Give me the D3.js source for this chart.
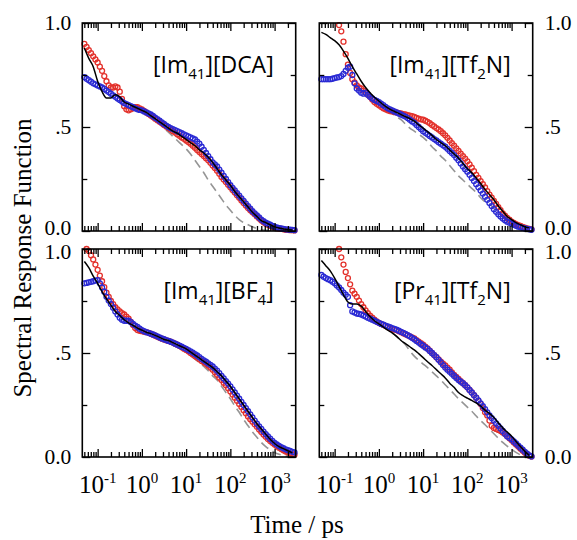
<!DOCTYPE html>
<html>
<head>
<meta charset="utf-8">
<script src="https://cdn.jsdelivr.net/npm/d3@7/dist/d3.min.js"></script>
<style>
  html, body { margin: 0; padding: 0; background: #fff; }
  svg { display: block; }
</style>
</head>
<body>
<svg id="chart" width="577" height="540"></svg>
<script>
// ---------------- DATA ----------------
// log10(time / ps) grid for the measured points (circles): -1.30 ... 3.45, step 0.05
const pointLogTimes = [
  -1.30,-1.25,-1.20,-1.15,-1.10,-1.05,-1.00,-0.95,-0.90,-0.85,
  -0.80,-0.75,-0.70,-0.65,-0.60,-0.55,-0.50,-0.45,-0.40,-0.35,
  -0.30,-0.25,-0.20,-0.15,-0.10,-0.05, 0.00, 0.05, 0.10, 0.15,
   0.20, 0.25, 0.30, 0.35, 0.40, 0.45, 0.50, 0.55, 0.60, 0.65,
   0.70, 0.75, 0.80, 0.85, 0.90, 0.95, 1.00, 1.05, 1.10, 1.15,
   1.20, 1.25, 1.30, 1.35, 1.40, 1.45, 1.50, 1.55, 1.60, 1.65,
   1.70, 1.75, 1.80, 1.85, 1.90, 1.95, 2.00, 2.05, 2.10, 2.15,
   2.20, 2.25, 2.30, 2.35, 2.40, 2.45, 2.50, 2.55, 2.60, 2.65,
   2.70, 2.75, 2.80, 2.85, 2.90, 2.95, 3.00, 3.05, 3.10, 3.15,
   3.20, 3.25, 3.30, 3.35, 3.40, 3.45];
// log10(time / ps) grid for the model curves: -1.3 ... 3.4, step 0.1
const lineLogTimes = [-1.3,-1.2,-1.1,-1.0,-0.9,-0.8,-0.7,-0.6,-0.5,-0.4,-0.3,-0.2,-0.1,0.0,
  0.1,0.2,0.3,0.4,0.5,0.6,0.7,0.8,0.9,1.0,1.1,1.2,1.3,1.4,1.5,1.6,1.7,1.8,1.9,2.0,
  2.1,2.2,2.3,2.4,2.5,2.6,2.7,2.8,2.9,3.0,3.1,3.2,3.3,3.4];

// Panel 1: [Im41][DCA]
const dcaRed = [
  0.90,0.885,0.87,0.855,0.84,0.825,0.81,0.79,0.77,0.745,
  0.72,0.70,0.69,0.69,0.695,0.69,0.67,0.635,0.60,0.585,
  0.58,0.585,0.59,0.595,0.595,0.59,0.585,0.578,0.57,0.563,
  0.555,0.548,0.54,0.533,0.525,0.518,0.51,0.503,0.495,0.488,
  0.48,0.473,0.465,0.458,0.45,0.443,0.435,0.428,0.42,0.41,
  0.40,0.39,0.38,0.37,0.36,0.35,0.34,0.328,0.315,0.303,
  0.29,0.275,0.26,0.248,0.235,0.222,0.21,0.197,0.185,0.172,
  0.16,0.147,0.135,0.122,0.11,0.10,0.09,0.08,0.07,0.06,
  0.05,0.042,0.035,0.03,0.025,0.021,0.017,0.014,0.012,0.01,
  0.008,0.006,0.005,0.004,0.004,0.003];
const dcaBlue = [
  0.74,0.732,0.725,0.718,0.71,0.705,0.70,0.695,0.69,0.683,
  0.675,0.668,0.66,0.652,0.645,0.637,0.63,0.622,0.615,0.61,
  0.605,0.60,0.595,0.59,0.585,0.582,0.58,0.575,0.57,0.565,
  0.56,0.553,0.545,0.538,0.53,0.522,0.515,0.507,0.50,0.495,
  0.49,0.485,0.48,0.475,0.47,0.465,0.46,0.455,0.45,0.445,
  0.44,0.43,0.42,0.405,0.39,0.375,0.36,0.345,0.33,0.32,
  0.31,0.295,0.28,0.265,0.25,0.235,0.22,0.207,0.195,0.182,
  0.17,0.157,0.145,0.132,0.12,0.107,0.095,0.085,0.075,0.065,
  0.055,0.047,0.04,0.035,0.03,0.025,0.02,0.017,0.014,0.012,
  0.01,0.008,0.007,0.006,0.005,0.004];
const dcaFit = [0.88,0.83,0.79,0.72,0.67,0.64,0.64,0.655,0.645,0.62,0.61,0.60,0.59,0.58,
  0.57,0.555,0.54,0.525,0.51,0.495,0.48,0.47,0.455,0.44,0.425,0.41,0.39,0.375,0.355,0.33,0.30,0.27,0.245,0.22,
  0.19,0.165,0.14,0.115,0.09,0.07,0.05,0.04,0.03,0.02,0.014,0.01,0.007,0.005];
const dcaDash = [null,null,null,null,null,null,null,null,0.635,0.62,0.605,0.595,0.585,0.575,
  0.56,0.545,0.53,0.515,0.495,0.475,0.455,0.435,0.415,0.395,0.37,0.34,0.31,0.28,0.245,0.215,0.185,0.155,0.125,0.10,
  0.075,0.055,0.04,0.03,0.02,0.012,0.006,0.003,0.001,0.0,0.0,0.0,0.0,0.0];

// Panel 2: [Im41][Tf2N]
const imTfRed = [
  null,null,null,null,null,null,null,null,0.99,0.96,
  0.91,0.85,0.80,0.76,0.73,0.715,0.70,0.69,0.685,0.675,
  0.665,0.655,0.645,0.632,0.62,0.612,0.605,0.597,0.59,0.585,
  0.58,0.577,0.575,0.572,0.57,0.567,0.565,0.562,0.56,0.557,
  0.555,0.552,0.548,0.544,0.54,0.537,0.535,0.53,0.525,0.518,
  0.51,0.503,0.495,0.488,0.48,0.47,0.46,0.448,0.435,0.422,
  0.41,0.397,0.385,0.372,0.36,0.348,0.335,0.32,0.305,0.288,
  0.27,0.255,0.24,0.225,0.21,0.192,0.175,0.16,0.145,0.13,
  0.115,0.10,0.085,0.074,0.063,0.054,0.045,0.039,0.033,0.028,
  0.024,0.02,0.016,0.013,0.01,0.008];
const imTfBlue = [
  0.73,0.73,0.73,0.73,0.73,0.732,0.735,0.738,0.74,0.745,
  0.755,0.77,0.785,0.79,0.75,0.71,0.685,0.675,0.665,0.66,
  0.665,0.655,0.645,0.637,0.63,0.625,0.62,0.612,0.605,0.597,
  0.59,0.585,0.58,0.575,0.57,0.565,0.56,0.555,0.55,0.543,
  0.535,0.527,0.52,0.51,0.50,0.49,0.48,0.472,0.465,0.457,
  0.45,0.442,0.435,0.427,0.42,0.412,0.405,0.395,0.385,0.375,
  0.365,0.352,0.34,0.325,0.31,0.297,0.285,0.27,0.255,0.24,
  0.225,0.21,0.195,0.18,0.165,0.15,0.135,0.12,0.105,0.092,
  0.08,0.07,0.06,0.052,0.045,0.04,0.035,0.03,0.025,0.021,
  0.018,0.015,0.012,0.01,0.008,0.006];
const imTfFit = [0.955,0.945,0.93,0.915,0.895,0.865,0.83,0.79,0.755,0.72,0.69,0.665,0.643,0.625,
  0.607,0.592,0.58,0.57,0.56,0.55,0.54,0.528,0.51,0.495,0.478,0.46,0.44,0.425,0.41,0.39,0.37,0.35,0.325,0.30,
  0.28,0.255,0.228,0.20,0.175,0.15,0.12,0.095,0.07,0.055,0.04,0.03,0.02,0.015];
const imTfDash = [null,null,null,null,null,null,null,null,null,null,0.67,0.645,0.625,0.61,
  0.595,0.58,0.565,0.55,0.535,0.515,0.495,0.48,0.465,0.45,0.43,0.405,0.385,0.36,0.34,0.315,0.29,0.265,0.245,0.225,
  0.205,0.185,0.16,0.14,0.13,0.11,0.09,0.07,0.05,0.035,0.02,0.01,0.004,0.001];

// Panel 3: [Im41][BF4]
const bf4Red = [
  null,1.0,0.99,0.97,0.95,0.925,0.90,0.872,0.845,0.817,
  0.79,0.77,0.75,0.735,0.72,0.71,0.70,0.692,0.685,0.675,
  0.665,0.65,0.635,0.62,0.61,0.607,0.605,0.602,0.60,0.597,
  0.593,0.588,0.583,0.578,0.573,0.569,0.565,0.561,0.558,0.554,
  0.55,0.545,0.54,0.534,0.528,0.521,0.515,0.508,0.50,0.493,
  0.485,0.478,0.47,0.462,0.455,0.448,0.44,0.43,0.42,0.408,
  0.395,0.382,0.37,0.357,0.345,0.33,0.315,0.30,0.285,0.27,
  0.255,0.24,0.225,0.21,0.195,0.182,0.17,0.157,0.145,0.132,
  0.12,0.108,0.097,0.087,0.077,0.068,0.06,0.052,0.045,0.038,
  0.032,0.027,0.022,0.018,0.014,0.011];
const bf4Blue = [
  0.835,0.837,0.84,0.842,0.845,0.848,0.85,0.835,0.815,0.795,
  0.77,0.752,0.735,0.718,0.70,0.685,0.67,0.66,0.655,0.655,
  0.655,0.648,0.64,0.632,0.625,0.617,0.61,0.605,0.60,0.597,
  0.593,0.589,0.585,0.58,0.575,0.57,0.566,0.562,0.558,0.554,
  0.55,0.545,0.54,0.535,0.53,0.525,0.52,0.514,0.508,0.502,
  0.495,0.488,0.48,0.472,0.465,0.458,0.45,0.443,0.435,0.425,
  0.415,0.403,0.39,0.378,0.365,0.353,0.34,0.325,0.31,0.295,
  0.28,0.265,0.25,0.235,0.22,0.205,0.19,0.175,0.16,0.147,
  0.135,0.122,0.11,0.099,0.088,0.078,0.068,0.06,0.053,0.047,
  0.042,0.037,0.033,0.029,0.025,0.022];
const bf4Fit = [0.94,0.91,0.87,0.835,0.795,0.76,0.73,0.70,0.68,0.66,0.645,0.633,0.62,0.61,
  0.60,0.593,0.585,0.575,0.565,0.56,0.55,0.54,0.53,0.52,0.505,0.49,0.475,0.46,0.445,0.43,0.41,0.39,0.365,0.34,
  0.31,0.28,0.25,0.22,0.19,0.16,0.135,0.11,0.085,0.065,0.05,0.04,0.03,0.02];
const bf4Dash = [null,null,null,null,null,null,null,null,null,null,null,null,null,null,
  null,null,0.585,0.575,0.565,0.555,0.545,0.53,0.52,0.505,0.49,0.47,0.455,0.435,0.415,0.39,0.37,0.34,0.31,0.28,
  0.245,0.215,0.18,0.15,0.12,0.095,0.07,0.05,0.035,0.022,0.013,0.007,0.003,0.001];

// Panel 4: [Pr41][Tf2N]
const prTfRed = [
  null,null,null,null,null,null,null,null,1.0,0.96,
  0.925,0.89,0.86,0.83,0.80,0.785,0.77,0.752,0.735,0.72,
  0.705,0.692,0.68,0.67,0.66,0.652,0.645,0.64,0.635,0.63,
  0.625,0.62,0.615,0.612,0.61,0.605,0.60,0.595,0.59,0.585,
  0.58,0.575,0.57,0.562,0.555,0.547,0.54,0.531,0.522,0.511,
  0.50,0.49,0.48,0.469,0.458,0.449,0.44,0.43,0.42,0.407,
  0.395,0.385,0.375,0.365,0.355,0.345,0.335,0.322,0.31,0.297,
  0.285,0.27,0.255,0.235,0.215,0.20,0.175,0.15,0.14,0.135,
  0.13,0.125,0.118,0.11,0.10,0.09,0.08,0.07,0.06,0.05,
  0.04,0.03,0.02,0.012,0.006,0.002];
const prTfBlue = [
  0.875,0.867,0.86,0.855,0.85,0.843,0.835,0.825,0.815,0.803,
  0.79,0.78,0.77,0.73,0.70,0.695,0.69,0.688,0.685,0.68,
  0.675,0.67,0.665,0.66,0.655,0.65,0.645,0.64,0.636,0.632,
  0.628,0.624,0.62,0.616,0.612,0.607,0.602,0.597,0.592,0.586,
  0.58,0.573,0.566,0.558,0.55,0.542,0.535,0.527,0.52,0.51,
  0.50,0.49,0.48,0.467,0.455,0.442,0.43,0.42,0.41,0.40,
  0.39,0.38,0.37,0.362,0.355,0.345,0.335,0.322,0.31,0.297,
  0.285,0.272,0.258,0.244,0.23,0.215,0.20,0.187,0.175,0.162,
  0.15,0.137,0.125,0.112,0.10,0.092,0.085,0.075,0.065,0.055,
  0.045,0.035,0.025,0.016,0.008,0.003];
const prTfFit = [0.945,0.92,0.895,0.86,0.82,0.78,0.745,0.735,0.735,0.725,0.70,0.675,0.655,0.64,
  0.625,0.61,0.597,0.58,0.56,0.545,0.53,0.515,0.497,0.478,0.458,0.44,0.42,0.40,0.38,0.355,0.335,0.31,0.295,0.283,
  0.272,0.26,0.245,0.225,0.21,0.19,0.165,0.14,0.12,0.10,0.075,0.05,0.027,0.008];
const prTfDash = [null,null,null,null,null,null,null,null,null,null,null,null,null,null,
  null,null,0.597,0.58,0.56,0.54,0.51,0.485,0.465,0.447,0.43,0.41,0.39,0.37,0.347,0.325,0.303,0.28,0.26,0.24,
  0.22,0.197,0.175,0.155,0.133,0.112,0.09,0.07,0.052,0.037,0.022,0.01,0.003,0.0];

// Axis tick values / labels
const xMajorTicks = [0.1, 1, 10, 100, 1000];
const xTickExponents = ["-1", "0", "1", "2", "3"];
const xMinorTicks = [0.05,0.06,0.07,0.08,0.09, 0.2,0.3,0.4,0.5,0.6,0.7,0.8,0.9,
  2,3,4,5,6,7,8,9, 20,30,40,50,60,70,80,90, 200,300,400,500,600,700,800,900, 2000];
const yMajorTicks = [0, 0.5, 1.0];
const yTickLabels = ["0.0", ".5", "1.0"];
const yMinorTicks = [0.25, 0.75];

// Panel titles: [text, isSubscript]
const titleDCA = [["[Im", false], ["41", true], ["][DCA]", false]];
const titleImTf = [["[Im", false], ["41", true], ["][Tf", false], ["2", true], ["N]", false]];
const titleBF4 = [["[Im", false], ["41", true], ["][BF", false], ["4", true], ["]", false]];
const titlePrTf = [["[Pr", false], ["41", true], ["][Tf", false], ["2", true], ["N]", false]];

const yAxisTitle = "Spectral Response Function";
const xAxisTitle = "Time / ps";

// ---------------- LAYOUT ----------------
const panelW = 213.4, panelH = 208;
const panels = [
  { x0: 82.3,  y0: 23,  title: titleDCA,  red: dcaRed,  blue: dcaBlue,  fit: dcaFit,  dash: dcaDash,  side: "left",  top: true,  xlabels: false },
  { x0: 319.3, y0: 23,  title: titleImTf, red: imTfRed, blue: imTfBlue, fit: imTfFit, dash: imTfDash, side: "right", top: true,  xlabels: false },
  { x0: 82.3,  y0: 249, title: titleBF4,  red: bf4Red,  blue: bf4Blue,  fit: bf4Fit,  dash: bf4Dash,  side: "left",  top: false, xlabels: true },
  { x0: 319.3, y0: 249, title: titlePrTf, red: prTfRed, blue: prTfBlue, fit: prTfFit, dash: prTfDash, side: "right", top: false, xlabels: true }
];

const RED = "#e3312b", BLUE = "#2a2ad4";
const serif = "'Liberation Serif', 'Times New Roman', serif";
const sans = "'Open Sans', 'DejaVu Sans', sans-serif";

const svg = d3.select("#chart");
const pointTimes = pointLogTimes.map(L => Math.pow(10, L));
const lineTimes = lineLogTimes.map(L => Math.pow(10, L));

panels.forEach(p => {
  const x = d3.scaleLog().domain([0.045, 3000]).range([p.x0, p.x0 + panelW]);
  const y = d3.scaleLinear().domain([0, 1]).range([p.y0 + panelH, p.y0]);
  const g = svg.append("g");

  const toPts = (arr, ts) => arr.map((v, i) => ({ t: ts[i], v: v }));

  const line = d3.line().defined(d => d.v !== null).x(d => x(d.t)).y(d => y(d.v)).curve(d3.curveMonotoneX);

  // dashed gray line
  g.append("path").datum(toPts(p.dash, lineTimes)).attr("d", line)
    .attr("fill", "none").attr("stroke", "#959595").attr("stroke-width", 1.6)
    .attr("stroke-dasharray", "9,5");

  // red circles
  g.append("g").selectAll("circle").data(toPts(p.red, pointTimes).filter(d => d.v !== null)).join("circle")
    .attr("cx", d => x(d.t)).attr("cy", d => y(d.v)).attr("r", 2.5)
    .attr("fill", "none").attr("stroke", RED).attr("stroke-width", 1.3);
  // blue circles
  g.append("g").selectAll("circle").data(toPts(p.blue, pointTimes).filter(d => d.v !== null)).join("circle")
    .attr("cx", d => x(d.t)).attr("cy", d => y(d.v)).attr("r", 2.5)
    .attr("fill", "none").attr("stroke", BLUE).attr("stroke-width", 1.3);

  // black fit line
  g.append("path").datum(toPts(p.fit, lineTimes)).attr("d", line)
    .attr("fill", "none").attr("stroke", "#000").attr("stroke-width", 1.5);

  // axes ticks (inward)
  const addAxis = (axis, transform) => {
    const a = g.append("g").attr("transform", transform).call(axis);
    a.select(".domain").remove();
    a.selectAll("line").attr("stroke", "#000").attr("stroke-width", 1.3);
    a.selectAll("text").remove();
  };
  addAxis(d3.axisBottom(x).tickValues(xMajorTicks).tickSize(-8), `translate(0,${p.y0 + panelH})`);
  addAxis(d3.axisBottom(x).tickValues(xMinorTicks).tickSize(-5), `translate(0,${p.y0 + panelH})`);
  addAxis(d3.axisTop(x).tickValues(xMajorTicks).tickSize(-8), `translate(0,${p.y0})`);
  addAxis(d3.axisTop(x).tickValues(xMinorTicks).tickSize(-5), `translate(0,${p.y0})`);
  addAxis(d3.axisLeft(y).tickValues(yMajorTicks).tickSize(-8), `translate(${p.x0},0)`);
  addAxis(d3.axisLeft(y).tickValues(yMinorTicks).tickSize(-5), `translate(${p.x0},0)`);
  addAxis(d3.axisRight(y).tickValues(yMajorTicks).tickSize(-8), `translate(${p.x0 + panelW},0)`);
  addAxis(d3.axisRight(y).tickValues(yMinorTicks).tickSize(-5), `translate(${p.x0 + panelW},0)`);

  // frame
  g.append("rect").attr("x", p.x0).attr("y", p.y0).attr("width", panelW).attr("height", panelH)
    .attr("fill", "none").attr("stroke", "#000").attr("stroke-width", 1.6);

  // y tick labels
  yMajorTicks.forEach((v, i) => {
    let nudge = 0;
    if (p.top && v === 0) nudge = -3;
    if (!p.top && v === 1) nudge = 3;
    g.append("text")
      .attr("x", p.side === "left" ? p.x0 - 11 : p.x0 + panelW + 12)
      .attr("y", y(v) + nudge).attr("dy", "0.34em")
      .attr("text-anchor", p.side === "left" ? "end" : "start")
      .attr("font-family", serif).attr("font-size", 21.5).attr("fill", "#000")
      .text(yTickLabels[i]);
  });

  // x tick labels
  if (p.xlabels) {
    xMajorTicks.forEach((t, i) => {
      const tx = g.append("text").attr("x", x(t)).attr("y", 493)
        .attr("text-anchor", "middle").attr("font-family", serif).attr("font-size", 25).attr("fill", "#000");
      tx.append("tspan").text("10");
      tx.append("tspan").attr("dy", -10).attr("font-size", 15).text(xTickExponents[i]);
    });
  }

  // title
  const tt = g.append("text").attr("x", p.x0 + panelW - 22).attr("y", p.y0 + 50)
    .attr("text-anchor", "end").attr("font-family", sans).attr("font-size", 23).attr("fill", "#000");
  let shifted = false;
  p.title.forEach(([s, sub]) => {
    const ts = tt.append("tspan").text(s);
    if (sub && !shifted) { ts.attr("dy", 6).attr("font-size", 15); shifted = true; }
    else if (!sub && shifted) { ts.attr("dy", -6); shifted = false; }
  });
});

// axis titles
svg.append("text").attr("transform", "translate(31,258) rotate(-90)")
  .attr("text-anchor", "middle").attr("font-family", serif).attr("font-size", 25).attr("fill", "#000")
  .text(yAxisTitle);
svg.append("text").attr("x", 297).attr("y", 533)
  .attr("text-anchor", "middle").attr("font-family", serif).attr("font-size", 25).attr("fill", "#000")
  .text(xAxisTitle);
</script>
</body>
</html>
